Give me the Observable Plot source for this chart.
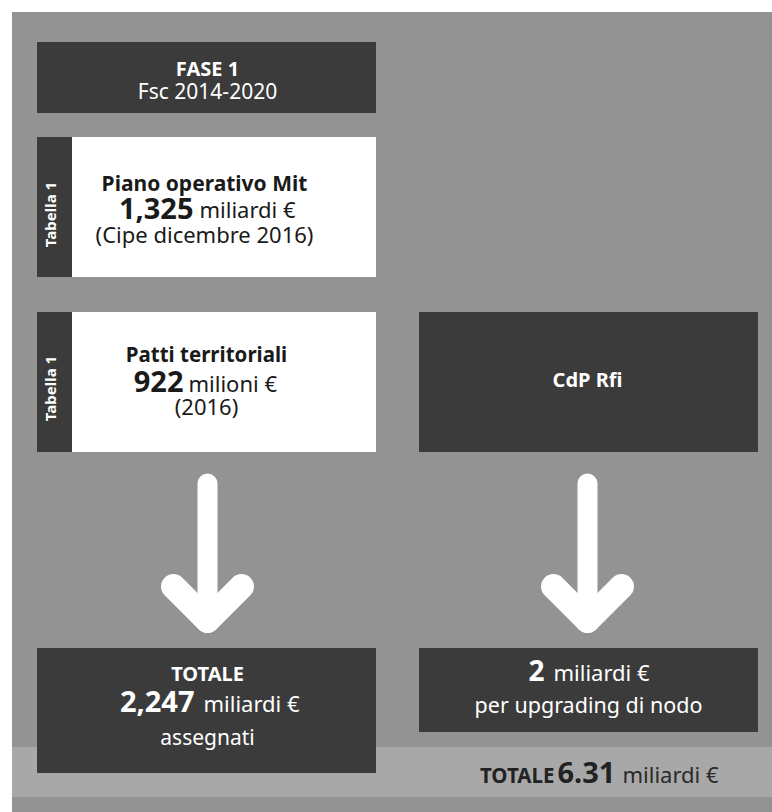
<!DOCTYPE html>
<html><head><meta charset="utf-8">
<script src="https://cdn.jsdelivr.net/npm/d3@7"></script>
<script src="https://cdn.jsdelivr.net/npm/@observablehq/plot@0.6"></script>
<style>
html,body{margin:0;padding:0;background:#fff;}
svg{display:block;font-family:"Noto Sans",sans-serif;}
</style></head><body><div id="chart"></div>
<script>
// ---- content ----
const phaseTitle = "FASE 1";
const phaseSub = "Fsc 2014-2020";
const sourceNames = ["Piano operativo Mit", "Patti territoriali", "CdP Rfi"];
const sourceValues = [1.325, 922, 2];
const sourceUnits = ["miliardi €", "milioni €", "miliardi €"];
const sourceNotes = ["(Cipe dicembre 2016)", "(2016)", "per upgrading di nodo"];
const tableTag = "Tabella 1";
const totalAssigned = 2.247;
const grandTotal = 6.31;

const it = d3.formatLocale({decimal: ",", thousands: ".", grouping: [3], currency: ["", " €"]});
const fmtIt = v => Number.isInteger(v) ? String(v) : it.format(",.3~f")(v);

// ---- layout (pixel grid of the diagram) ----
const colL = {x1: 37, x2: 376, cx: 207};
const colR = {x1: 419, x2: 758, cx: 587};
const C = {bg: "#939393", band: "#a8a8a8", dark: "#3b3b3b", white: "#ffffff", ink: "#1a1a1a"};

const panels = [
  {x1: 12, x2: 772, y1: 12, y2: 812, fill: C.bg},
  {x1: 12, x2: 772, y1: 747, y2: 797, fill: C.band},
  {x1: colL.x1, x2: colL.x2, y1: 42, y2: 113, fill: C.dark},
  {x1: colL.x1, x2: colL.x2, y1: 137, y2: 277, fill: C.white},
  {x1: colL.x1, x2: 72, y1: 137, y2: 277, fill: C.dark},
  {x1: colL.x1, x2: colL.x2, y1: 312, y2: 452, fill: C.white},
  {x1: colL.x1, x2: 72, y1: 312, y2: 452, fill: C.dark},
  {x1: colR.x1, x2: colR.x2, y1: 312, y2: 452, fill: C.dark},
  {x1: colL.x1, x2: colL.x2, y1: 648, y2: 773, fill: C.dark},
  {x1: colR.x1, x2: colR.x2, y1: 648, y2: 732, fill: C.dark}
];

const arrowShafts = [colL.cx, colR.cx].map(cx => ({x1: cx, y1: 483, x2: cx, y2: 618}));
const arrowHeads = [colL.cx, colR.cx].flatMap(cx => [
  {x1: cx - 34, y1: 586, x2: cx, y2: 620},
  {x1: cx + 34, y1: 586, x2: cx, y2: 620}
]);

// text items
const T = [
  // bold
  {t: phaseTitle, x: colL.cx, y: 75, s: 20, a: "middle", f: C.white, w: "bold"},
  {t: tableTag, x: 51, y: 214, s: 15, a: "middle", f: C.white, w: "bold", r: -90, mid: true},
  {t: tableTag, x: 51, y: 388, s: 15, a: "middle", f: C.white, w: "bold", r: -90, mid: true},
  {t: sourceNames[0], x: 204, y: 190, s: 21, a: "middle", f: C.ink, w: "bold"},
  {t: fmtIt(sourceValues[0]), x: 193, y: 218, s: 29, a: "end", f: C.ink, w: "bold"},
  {t: sourceNames[1], x: 206, y: 361, s: 20.5, a: "middle", f: C.ink, w: "bold"},
  {t: fmtIt(sourceValues[1]), x: 183, y: 391, s: 29, a: "end", f: C.ink, w: "bold"},
  {t: sourceNames[2], x: colR.cx, y: 386, s: 20, a: "middle", f: C.white, w: "bold"},
  {t: "TOTALE", x: colL.cx, y: 680, s: 20, a: "middle", f: C.white, w: "bold"},
  {t: fmtIt(totalAssigned), x: 194, y: 711, s: 29, a: "end", f: C.white, w: "bold"},
  {t: fmtIt(sourceValues[2]), x: 544, y: 680, s: 28, a: "end", f: C.white, w: "bold"},
  {t: "TOTALE", x: 554, y: 782, s: 20.5, a: "end", f: "#222", w: "bold"},
  {t: String(grandTotal), x: 557, y: 782, s: 29, a: "start", f: "#222", w: "bold"},
  // regular
  {t: phaseSub, x: colL.cx, y: 98, s: 21, a: "middle", f: C.white, w: "normal"},
  {t: sourceUnits[0], x: 199, y: 217, s: 22, a: "start", f: C.ink, w: "normal"},
  {t: sourceNotes[0], x: 204, y: 242, s: 22, a: "middle", f: C.ink, w: "normal"},
  {t: sourceUnits[1], x: 188, y: 391, s: 22, a: "start", f: C.ink, w: "normal"},
  {t: sourceNotes[1], x: 206, y: 414, s: 22, a: "middle", f: C.ink, w: "normal"},
  {t: sourceUnits[0], x: 203, y: 711, s: 22, a: "start", f: C.white, w: "normal"},
  {t: "assegnati", x: colL.cx, y: 744, s: 21, a: "middle", f: C.white, w: "normal"},
  {t: sourceUnits[2], x: 553, y: 680, s: 22, a: "start", f: C.white, w: "normal"},
  {t: sourceNotes[2], x: 588, y: 712, s: 21.5, a: "middle", f: C.white, w: "normal"},
  {t: sourceUnits[0], x: 622, y: 782, s: 22, a: "start", f: "#2a2a2a", w: "normal"}
];

function textMark(data, weight, anchor, mid) {
  return Plot.text(data.filter(d => d.w === weight && d.a === anchor && !!d.mid === mid), {
    x: "x", y: "y", text: "t", fontSize: "s", fill: "f",
    rotate: d => d.r || 0,
    textAnchor: anchor, lineAnchor: mid ? "middle" : "bottom",
    fontWeight: weight, fontFamily: "Noto Sans"
  });
}

const textMarks = [];
for (const w of ["bold", "normal"]) for (const a of ["start", "middle", "end"]) for (const m of [false, true]) textMarks.push(textMark(T, w, a, m));

const chart = Plot.plot({
  width: 772, height: 812,
  margin: 0,
  x: {domain: [0, 772], range: [0, 772], axis: null},
  y: {domain: [0, 812], range: [0, 812], axis: null},
  style: {background: "#fff", overflow: "visible"},
  marks: [
    Plot.rect(panels, {x1: "x1", x2: "x2", y1: "y1", y2: "y2", fill: "fill"}),
    Plot.link(arrowShafts, {x1: "x1", y1: "y1", x2: "x2", y2: "y2", stroke: "#fff", strokeWidth: 20, strokeLinecap: "round"}),
    Plot.link(arrowHeads, {x1: "x1", y1: "y1", x2: "x2", y2: "y2", stroke: "#fff", strokeWidth: 25, strokeLinecap: "round"}),
    ...textMarks
  ]
});
document.getElementById("chart").appendChild(chart);
</script></body></html>
